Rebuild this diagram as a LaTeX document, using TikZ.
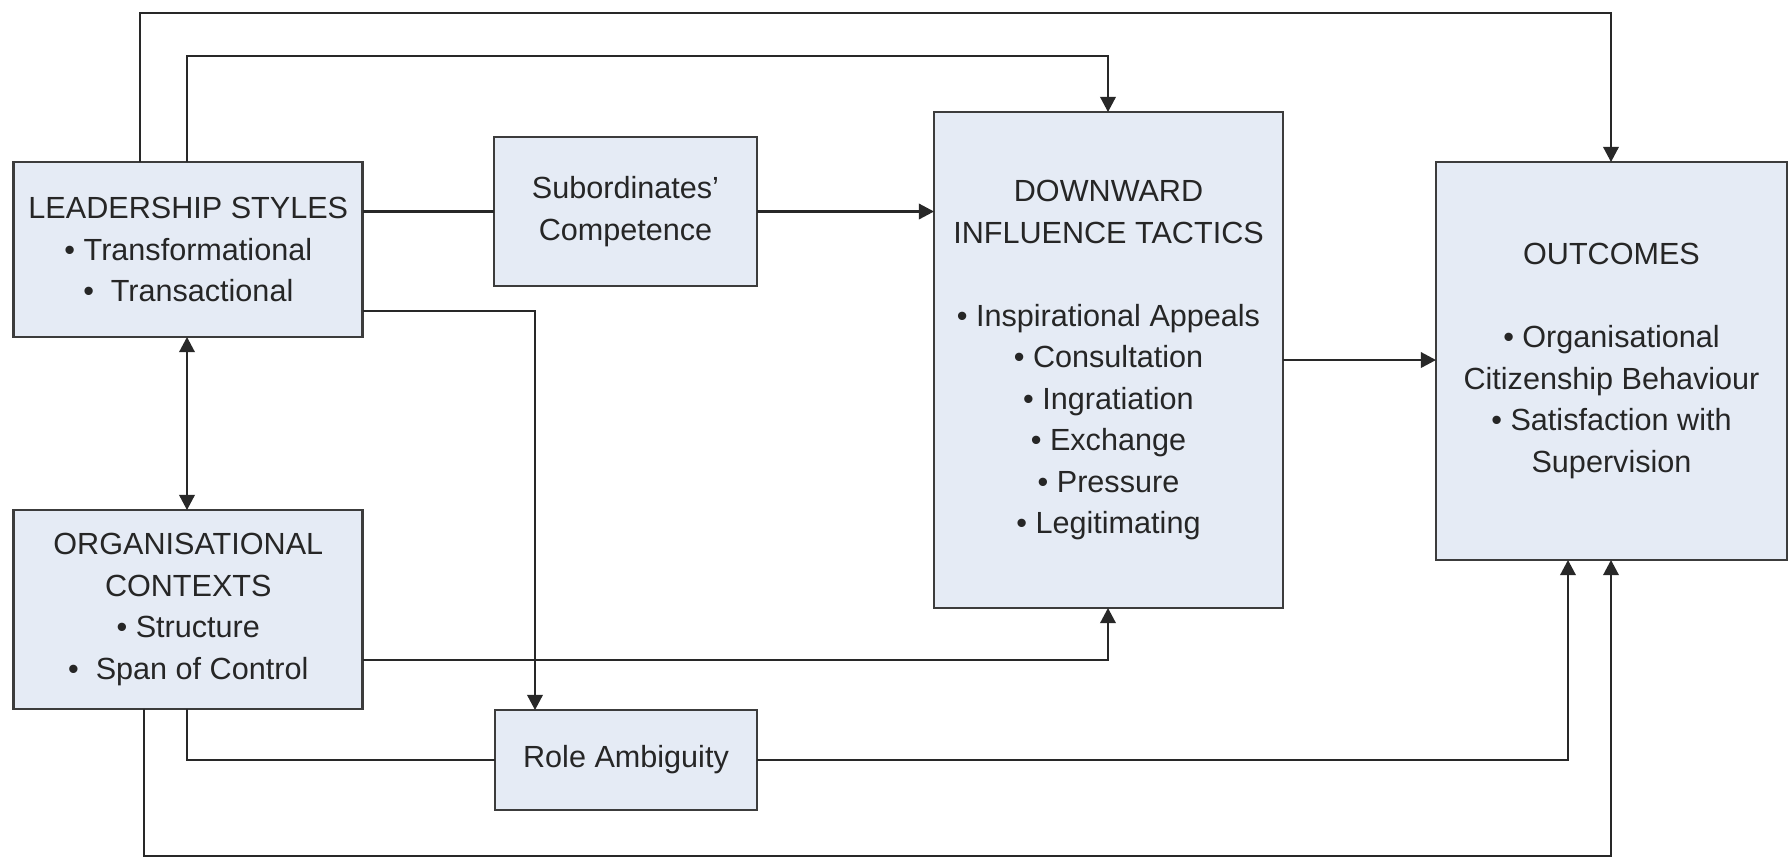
\documentclass[tikz,border=0pt]{standalone}
\usepackage{fontspec}
\setmainfont{Liberation Sans}
\usetikzlibrary{arrows.meta}
\definecolor{boxfill}{RGB}{229,235,245}
\definecolor{boxline}{RGB}{60,60,60}
\definecolor{linecol}{RGB}{40,40,40}
\begin{document}
\begin{tikzpicture}[x=0.01cm,y=-0.01cm,
  box/.style={draw=boxline,fill=boxfill,line width=0.8pt,inner sep=0pt,outer sep=0pt,
    align=center,font=\fontsize{8.7}{11.8}\selectfont,text=black!85},
  conn/.style={draw=linecol,line width=0.6pt},
  arr/.style={conn,-{Triangle[length=4.3pt,width=4.4pt]}},
  darr/.style={conn,{Triangle[length=4.3pt,width=4.4pt]}-{Triangle[length=4.3pt,width=4.4pt]}}]
\useasboundingbox (0,0) rectangle (1790,859);
\fill[white] (0,0) rectangle (1790,859);

\node[box,minimum width=349*0.01cm,minimum height=175*0.01cm] (lead) at (188.3,249.5)
  {LEADERSHIP STYLES\\ • Transformational\\ •\hspace{0.55em}Transactional};
\node[box,minimum width=349*0.01cm,minimum height=199*0.01cm] (org) at (188.3,609.5)
  {ORGANISATIONAL\\ CONTEXTS\\ • Structure\\ •\hspace{0.55em}Span of Control};
\node[box,minimum width=263*0.01cm,minimum height=149*0.01cm] (sub) at (625.5,211.5)
  {Subordinates’\\ Competence};
\node[box,minimum width=262*0.01cm,minimum height=100*0.01cm] (role) at (626,760)
  {Role Ambiguity};
\node[box,minimum width=349*0.01cm,minimum height=496*0.01cm] (down) at (1108.5,360)
  {DOWNWARD\\ INFLUENCE TACTICS\\[11.8pt] • Inspirational Appeals\\ • Consultation\\ • Ingratiation\\ • Exchange\\ • Pressure\\ • Legitimating};
\node[box,minimum width=351*0.01cm,minimum height=398*0.01cm] (out) at (1611.5,361)
  {OUTCOMES\\[11.8pt] • Organisational\\ Citizenship Behaviour\\ • Satisfaction with\\ Supervision};

\coordinate (xa) at (140,0);
\coordinate (xb) at (187,0);
\coordinate (xc) at (535,0);
\coordinate (xd) at (1108,0);
\coordinate (xe) at (1568,0);
\coordinate (xf) at (1611,0);
\coordinate (xg) at (144,0);
\coordinate (ya) at (0,13);
\coordinate (yb) at (0,56);
\coordinate (yc) at (0,311);
\coordinate (yd) at (0,660);
\coordinate (ye) at (0,761);
\coordinate (yf) at (0,856);

\draw[arr] (lead.north -| xa) -- (xa |- ya) -- (xf |- ya) -- (out.north -| xf);
\draw[arr] (lead.north -| xb) -- (xb |- yb) -- (xd |- yb) -- (down.north -| xd);
\draw[conn] (lead.east |- sub.west) -- (sub.west);
\draw[arr] (sub.east) -- (sub.east -| down.west);
\draw[arr] (lead.east |- yc) -- (xc |- yc) -- (role.north -| xc);
\draw[darr] (lead.south -| xb) -- (org.north -| xb);
\draw[arr] (org.east |- yd) -- (xd |- yd) -- (down.south -| xd);
\draw[conn] (org.south -| xb) -- (xb |- role.west) -- (role.west);
\draw[arr] (role.east) -- (xe |- role.east) -- (out.south -| xe);
\draw[arr] (org.south -| xg) -- (xg |- yf) -- (xf |- yf) -- (out.south -| xf);
\draw[arr] (down.east) -- (down.east -| out.west);
\end{tikzpicture}
\end{document}
